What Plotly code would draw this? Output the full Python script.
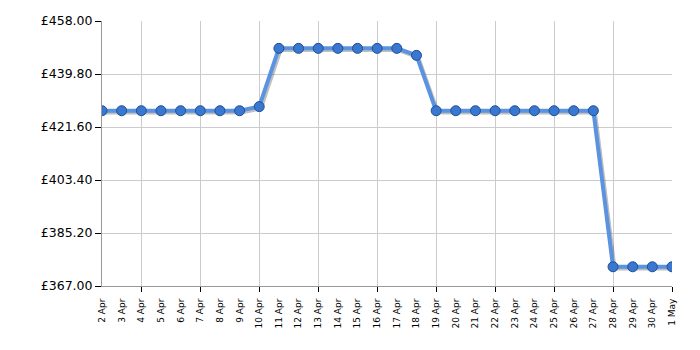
import plotly.graph_objects as go

dates = ["2 Apr", "3 Apr", "4 Apr", "5 Apr", "6 Apr", "7 Apr", "8 Apr", "9 Apr", "10 Apr",
         "11 Apr", "12 Apr", "13 Apr", "14 Apr", "15 Apr", "16 Apr", "17 Apr", "18 Apr",
         "19 Apr", "20 Apr", "21 Apr", "22 Apr", "23 Apr", "24 Apr", "25 Apr", "26 Apr",
         "27 Apr", "28 Apr", "29 Apr", "30 Apr", "1 May"]
prices = [427.19, 427.19, 427.19, 427.19, 427.19, 427.19, 427.19, 427.19, 428.60,
          448.60, 448.60, 448.60, 448.60, 448.60, 448.60, 448.60, 446.20,
          427.19, 427.19, 427.19, 427.19, 427.19, 427.19, 427.19, 427.19,
          427.19, 373.60, 373.60, 373.60, 373.60]
y_ticks = [367.00, 385.20, 403.40, 421.60, 439.80, 458.00]
y_labels = ["£%.2f" % v for v in y_ticks]

idx = list(range(len(dates)))
grid_idx = idx[2::3]

fig = go.Figure()
# soft shadow
fig.add_trace(go.Scatter(x=[i + 0.08 for i in idx], y=[p - 0.6 for p in prices], mode="lines",
                         line=dict(color="rgba(0,0,0,0.25)", width=4), hoverinfo="skip",
                         showlegend=False))
fig.add_trace(go.Scatter(x=idx, y=prices, mode="lines+markers",
                         line=dict(color="#5b93e0", width=4),
                         marker=dict(size=10, color="#3a77d0",
                                     line=dict(color="#1f4f96", width=1)),
                         showlegend=False))
fig.add_trace(go.Scatter(x=idx, y=prices, xaxis="x2", mode="markers",
                         marker=dict(size=1, opacity=0), showlegend=False, hoverinfo="skip"))

fig.update_layout(
    width=700, height=350,
    margin=dict(l=102, r=28, t=21, b=64),
    paper_bgcolor="white", plot_bgcolor="white",
    font=dict(family="DejaVu Sans, Verdana, sans-serif", color="black"),
    xaxis=dict(range=[0, 29], tickmode="array", tickvals=idx, ticktext=dates,
               tickangle=-90, tickfont=dict(size=9), showgrid=False, zeroline=False,
               showline=True, linecolor="#999999", linewidth=1, ticks="",
               ticklabelstandoff=8),
    xaxis2=dict(range=[0, 29], overlaying="x", side="bottom", tickmode="array",
                tickvals=grid_idx, showticklabels=False, showgrid=True,
                gridcolor="#cccccc", gridwidth=1, ticks="outside", ticklen=5,
                tickcolor="black", zeroline=False),
    yaxis=dict(range=[367, 458], tickmode="array", tickvals=y_ticks, ticktext=y_labels,
               tickfont=dict(size=12.5), showgrid=True, gridcolor="#cccccc",
               ticks="outside", ticklen=6, tickcolor="black", zeroline=False,
               showline=True, linecolor="#999999", linewidth=1),
)
fig.write_html("out.html")
